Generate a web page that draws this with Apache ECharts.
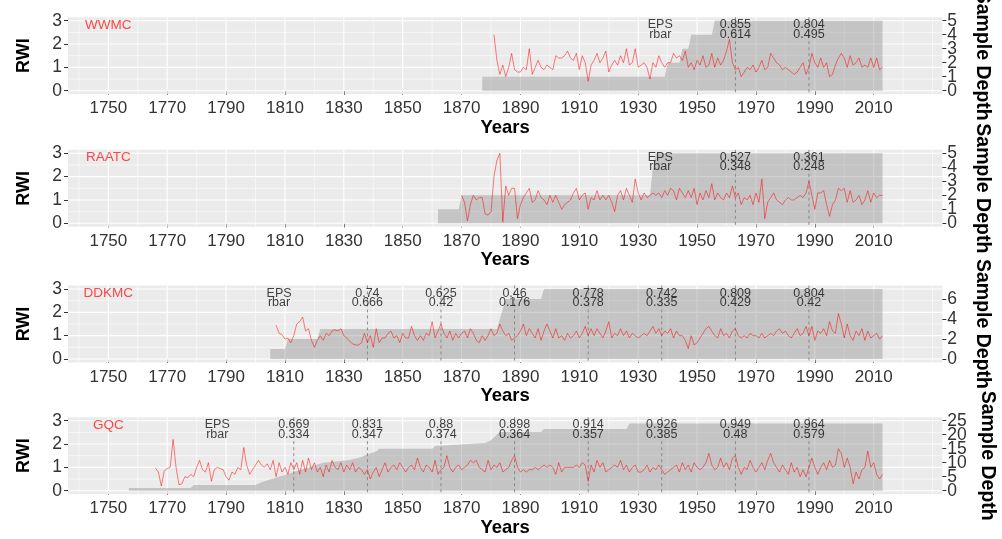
<!DOCTYPE html>
<html><head><meta charset="utf-8">
<script src="https://cdn.jsdelivr.net/npm/echarts@6/dist/echarts.min.js"></script>
<style>html,body{margin:0;padding:0;background:#fff}#c{width:1002px;height:539px}</style>
</head><body><div id="c"></div>
<script>
// ---------- data ----------
const siteNames = ['WWMC', 'RAATC', 'DDKMC', 'GQC'];
const tickYears = [1750, 1770, 1790, 1810, 1830, 1850, 1870, 1890, 1910, 1930, 1950, 1970, 1990, 2010];
const minorYears = [1740, 1760, 1780, 1800, 1820, 1840, 1860, 1880, 1900, 1920, 1940, 1960, 1980, 2000, 2020, 2030];
const rwiTicks = [0, 1, 2, 3];
const rwiMinor = [0.5, 1.5, 2.5];

const wwmcStart = 1881;
const wwmcRwi = [
  2.4,1.3,0.7,1.1,0.6,1.0,1.6,0.9,0.8,0.8,
  1.0,0.9,1.8,0.7,1.0,1.3,1.0,0.9,1.1,1.0,
  0.9,1.5,1.4,1.4,1.5,1.7,1.4,1.3,1.6,0.9,
  1.5,1.2,0.4,1.1,1.3,1.6,1.2,1.4,1.7,0.8,
  1.1,1.3,1.1,1.5,1.2,1.8,1.1,1.2,1.8,1.0,
  1.1,1.2,1.0,0.5,1.2,1.0,1.5,1.2,1.0,1.2,
  1.2,1.6,1.4,1.5,1.3,1.7,1.0,1.2,0.9,1.3,
  1.1,1.5,1.0,1.1,1.6,1.0,1.4,1.1,1.3,1.7,
  2.2,1.2,0.9,1.0,0.6,0.8,1.0,0.9,1.1,0.8,
  1.0,1.3,0.9,1.0,1.6,1.4,1.2,1.1,0.9,1.0,
  0.9,0.8,0.7,0.8,1.0,1.2,0.7,1.0,1.6,1.2,
  1.0,1.4,1.0,1.2,0.6,0.7,1.1,1.4,1.6,1.4,
  1.0,1.5,1.1,1.2,1.4,1.0,1.1,1.0,1.4,1.0,
  1.4,0.9,1.0];
const raatcStart = 1870;
const raatcRwi = [
  1.2,0.9,0.1,0.8,1.2,1.0,1.1,1.1,0.4,0.35,
  0.5,2.0,2.7,3.0,0.05,1.6,1.2,1.5,1.5,0.2,
  0.8,1.1,1.3,1.5,0.9,1.0,1.4,1.1,1.0,0.8,
  1.2,0.9,1.2,0.9,0.6,0.8,0.9,1.0,1.3,1.5,
  1.0,1.2,1.3,0.6,1.1,1.0,1.4,1.0,1.2,1.0,
  1.2,0.9,0.5,1.2,1.4,1.0,1.5,1.2,0.9,1.9,
  1.3,1.0,1.3,1.1,1.2,1.3,1.2,1.3,1.1,1.4,
  1.2,1.5,1.4,1.0,1.5,1.3,1.1,1.4,1.1,1.5,
  0.8,1.3,1.0,1.4,1.1,1.7,1.0,1.3,1.1,1.0,
  1.3,1.1,1.6,1.1,1.3,0.8,1.1,1.0,1.2,0.8,
  1.3,0.9,1.9,0.2,0.9,1.1,1.3,1.0,0.9,0.8,
  1.0,1.1,1.0,1.0,1.1,1.2,1.1,1.3,1.8,1.2,
  0.6,1.3,1.3,1.4,0.8,0.3,0.8,1.0,1.5,1.4,
  1.5,0.9,1.4,0.9,1.0,1.2,0.8,1.0,1.4,0.9,
  1.3,1.1,1.2,1.2];
const ddkmcStart = 1807;
const ddkmcRwi = [
  1.45,1.1,1.05,0.85,0.9,0.7,1.0,1.5,1.6,1.8,
  1.2,1.3,0.8,0.5,0.8,1.0,0.8,1.1,1.0,1.2,
  1.25,1.2,1.3,1.0,0.9,0.75,0.65,0.6,0.6,0.7,
  1.1,0.7,1.0,0.5,1.3,0.7,0.9,0.9,1.1,1.2,
  0.9,1.0,0.7,1.1,0.9,0.9,1.4,1.0,0.8,1.0,
  0.8,1.1,1.0,1.6,0.9,1.2,1.5,1.1,0.9,1.2,
  0.8,1.1,0.9,1.1,1.2,0.9,1.3,1.1,0.8,0.7,
  1.0,0.8,1.0,1.3,1.0,1.1,1.5,1.2,1.0,1.1,
  0.8,0.9,1.0,1.2,1.5,1.0,1.3,1.1,0.9,1.3,
  0.8,1.2,1.5,1.2,0.9,1.3,0.9,1.0,0.8,1.1,
  0.9,1.0,1.2,0.9,1.1,1.4,1.0,1.3,1.0,1.3,
  1.1,0.9,1.2,1.6,0.9,1.1,1.0,1.3,1.0,1.2,
  0.9,1.1,1.0,0.9,1.0,1.1,1.0,1.2,1.4,1.1,
  1.3,1.0,1.2,1.1,1.3,0.9,1.2,1.0,1.0,0.8,
  0.45,1.0,0.6,0.7,0.9,1.1,1.3,1.4,1.2,1.0,
  0.9,1.3,1.0,1.1,0.9,1.2,1.3,1.0,0.9,1.0,
  0.9,1.1,1.0,1.0,0.9,1.1,0.9,1.0,1.1,1.0,
  1.2,1.3,1.1,1.2,1.0,0.9,1.1,1.3,1.0,1.1,
  1.4,1.0,1.4,0.8,1.2,1.1,1.3,1.0,1.6,1.2,
  1.1,1.95,1.5,0.9,1.5,1.0,0.8,1.2,1.0,1.3,
  0.8,1.2,0.9,1.0,1.1,0.85,1.0];
const gqcStart = 1766;
const gqcRwi = [
  0.97,0.8,0.2,0.85,0.95,1.0,2.2,1.0,0.25,0.3,
  0.6,0.55,0.7,0.6,1.0,1.3,0.9,0.8,1.2,0.4,
  0.9,1.0,0.95,0.9,0.6,0.45,0.8,0.7,1.0,0.9,
  1.85,1.1,0.7,0.9,1.1,1.3,1.1,1.0,1.15,0.9,
  1.3,0.6,1.2,0.8,1.0,0.7,1.2,0.9,1.2,0.7,
  1.3,0.8,1.4,0.9,1.2,0.8,1.0,0.6,1.1,0.8,
  1.3,1.0,0.9,1.2,0.8,1.1,0.9,1.2,0.8,1.0,
  0.9,0.7,0.9,0.5,0.8,1.0,0.6,0.9,1.2,0.8,
  1.0,1.1,0.9,1.2,1.0,0.8,1.0,1.1,0.9,1.4,
  1.0,0.8,1.1,1.0,0.8,1.3,0.7,0.9,1.0,1.5,
  1.0,0.8,1.0,1.1,0.9,1.0,1.1,1.3,1.2,1.3,
  1.0,0.9,0.8,1.3,0.9,1.1,1.0,1.2,0.8,0.9,
  1.0,1.3,1.5,1.0,0.8,0.9,0.8,0.9,0.9,1.0,
  0.9,1.0,1.1,1.0,1.1,1.0,0.7,1.2,0.8,1.0,
  1.0,1.0,1.0,1.1,1.0,1.2,1.1,0.4,1.1,0.8,
  1.3,1.0,1.2,0.8,0.9,1.0,1.1,1.0,1.3,0.9,
  1.1,0.8,1.0,1.1,0.8,0.8,0.9,1.1,0.8,1.0,
  0.9,1.1,0.9,0.7,0.8,0.9,1.0,1.1,0.8,1.2,
  0.9,1.1,0.8,1.2,1.0,0.9,1.0,1.2,1.6,1.1,
  0.9,1.0,1.4,1.0,1.2,0.9,1.4,1.5,1.0,0.7,
  1.0,0.9,1.3,1.0,0.8,1.0,1.2,0.9,1.3,1.6,
  1.2,1.0,0.8,1.1,0.9,0.7,1.2,0.8,1.0,0.6,
  0.9,0.6,1.0,1.4,1.0,0.7,1.0,1.2,0.9,1.3,
  1.0,1.1,1.8,1.6,1.0,1.4,1.0,0.3,0.8,0.5,
  0.9,1.0,1.7,1.0,1.2,0.7,0.5,0.7];

// sample depth (year where depth changes, depth)
const wwmcDepthYears = [1877, 1939, 1940, 1944, 1945, 1947, 1948, 1955, 1956, 2013];
const wwmcDepth      = [1, 1, 2, 2, 3, 3, 4, 4, 5, 5];
const raatcDepthYears = [1862, 1869, 1870, 1934, 1935, 1936, 2013];
const raatcDepth      = [1, 1, 2, 2, 4, 5, 5];
const ddkmcDepthYears = [1805, 1810, 1811, 1821, 1822, 1882, 1883, 1885, 1897, 1898, 2013];
const ddkmcDepth      = [1, 1, 2, 2, 3, 3, 4, 6, 6, 7, 7];
const gqcDepthYears = [1757, 1778, 1779, 1800, 1802, 1805, 1808, 1811, 1814, 1817, 1820, 1823, 1832, 1836, 1838, 1841, 1842, 1860, 1861, 1878, 1880, 1881, 1882, 1883, 1897, 1898, 1926, 1927, 2013];
const gqcDepth      = [1, 1, 2, 2, 3, 4, 5, 6, 7, 8, 9, 10, 11, 12, 13, 14, 15, 15, 16, 17, 18, 19, 20, 21, 21, 22, 22, 24, 24];
const depthTicks = [[0,1,2,3,4,5], [0,1,2,3,4,5], [0,2,4,6], [0,5,10,15,20,25]];
const depthAxisTop = [5, 5, 7, 25];   // depth value aligned with RWI = 3

// running EPS / rbar windows
const wwmcWindows = [1963, 1988];
const wwmcEps  = [0.855, 0.804];
const wwmcRbar = [0.614, 0.495];
const raatcWindows = [1963, 1988];
const raatcEps  = [0.527, 0.361];
const raatcRbar = [0.348, 0.248];
const ddkmcWindows = [1838, 1863, 1888, 1913, 1938, 1963, 1988];
const ddkmcEps  = [0.74, 0.625, 0.46, 0.778, 0.742, 0.809, 0.804];
const ddkmcRbar = [0.666, 0.42, 0.176, 0.378, 0.335, 0.429, 0.42];
const gqcWindows = [1813, 1838, 1863, 1888, 1913, 1938, 1963, 1988];
const gqcEps  = [0.669, 0.831, 0.88, 0.898, 0.914, 0.926, 0.949, 0.964];
const gqcRbar = [0.334, 0.347, 0.374, 0.364, 0.357, 0.385, 0.48, 0.579];
const epsLabelYear = [1937.5, 1937.5, 1808, 1787];
const nameLabelYear = 1750;
const epsRowY = 2.82, rbarRowY = 2.42, nameRowY = 2.82;

// ---------- build ----------
const panels = [
  {start: wwmcStart, rwi: wwmcRwi, dy: wwmcDepthYears, dv: wwmcDepth, win: wwmcWindows, eps: wwmcEps, rbar: wwmcRbar},
  {start: raatcStart, rwi: raatcRwi, dy: raatcDepthYears, dv: raatcDepth, win: raatcWindows, eps: raatcEps, rbar: raatcRbar},
  {start: ddkmcStart, rwi: ddkmcRwi, dy: ddkmcDepthYears, dv: ddkmcDepth, win: ddkmcWindows, eps: ddkmcEps, rbar: ddkmcRbar},
  {start: gqcStart, rwi: gqcRwi, dy: gqcDepthYears, dv: gqcDepth, win: gqcWindows, eps: gqcEps, rbar: gqcRbar}
];
const FONT = '"Liberation Sans", Arial, sans-serif';
const tops = [17.2, 149.8, 285.5, 417.2];
const H = 77;
const grids = [], xAxes = [], yAxes = [], series = [];
const plain = v => String(v);

panels.forEach((p, i) => {
  grids.push({left: 68, right: 59.7, top: tops[i], height: H, show: true,
    backgroundColor: '#EBEBEB', borderWidth: 0, containLabel: false, outerBoundsMode: 'none'});
  xAxes.push({gridIndex: i, type: 'value', min: 1736.3, max: 2033.3,
    axisLine: {show: false},
    axisTick: {show: true, customValues: tickYears, length: 4, lineStyle: {color: '#333', width: 1}},
    axisLabel: {customValues: tickYears, formatter: plain, showMinLabel: true, showMaxLabel: true,
      fontSize: 17, color: '#333', margin: 6, fontFamily: FONT},
    splitLine: {show: false},
    name: 'Years', nameLocation: 'middle', nameGap: 23,
    nameTextStyle: {fontWeight: 'bold', fontSize: 18.5, color: '#000', fontFamily: FONT}});
  const leftIdx = yAxes.length;
  yAxes.push({gridIndex: i, type: 'value', position: 'left', min: -0.15, max: 3.15,
    axisLine: {show: false},
    axisTick: {show: true, customValues: rwiTicks, length: 4, lineStyle: {color: '#333'}},
    axisLabel: {customValues: rwiTicks, formatter: plain, showMinLabel: true, showMaxLabel: true,
      fontSize: 17.5, color: '#333', margin: 6, fontFamily: FONT},
    splitLine: {show: false},
    name: 'RWI', nameLocation: 'middle', nameGap: 35, nameRotate: 90,
    nameTextStyle: {fontWeight: 'bold', fontSize: 18, color: '#000', fontFamily: FONT}});
  const f = depthAxisTop[i] / 3;
  // right axis split into two interleaved label sets so every tick label stays visible
  const evenTicks = depthTicks[i].filter((_, k) => k % 2 === 0);
  const oddTicks = depthTicks[i].filter((_, k) => k % 2 === 1);
  const rightIdx = yAxes.length;
  [evenTicks, oddTicks].forEach((tv, k) => {
    yAxes.push({gridIndex: i, type: 'value', position: 'right', offset: 0, min: -0.15 * f, max: 3.15 * f,
      axisLine: {show: false},
      axisTick: {show: true, customValues: tv, length: 4, lineStyle: {color: '#333'}},
      axisLabel: {customValues: tv, formatter: plain, showMinLabel: true, showMaxLabel: true,
        fontSize: 17.5, color: '#333', margin: 5, fontFamily: FONT},
      splitLine: {show: false},
      name: k === 0 ? 'Sample Depth' : '', nameLocation: 'middle', nameGap: 30, nameRotate: -90,
      nameTextStyle: {fontWeight: 'bold', fontSize: 19.5, color: '#000', fontFamily: FONT}});
  });

  // background grid lines (vertical)
  series.push({type: 'custom', xAxisIndex: i, yAxisIndex: leftIdx, z: 1, silent: true,
    data: tickYears.map(y => [y, 0, 1]).concat(minorYears.map(y => [y, 0, 0])),
    renderItem: (params, api) => {
      const cs = params.coordSys;
      const x = api.coord([api.value(0), 0])[0];
      return {type: 'line', shape: {x1: x, y1: cs.y, x2: x, y2: cs.y + cs.height},
        style: {stroke: '#fff', lineWidth: api.value(2) ? 1.1 : 0.55}};
    }});
  // background grid lines (horizontal)
  series.push({type: 'custom', xAxisIndex: i, yAxisIndex: leftIdx, z: 1, silent: true,
    data: rwiTicks.map(v => [1800, v, 1]).concat(rwiMinor.map(v => [1800, v, 0])),
    renderItem: (params, api) => {
      const cs = params.coordSys;
      const y = api.coord([1800, api.value(1)])[1];
      return {type: 'line', shape: {x1: cs.x, y1: y, x2: cs.x + cs.width, y2: y},
        style: {stroke: '#fff', lineWidth: api.value(2) ? 1.1 : 0.55}};
    }});
  // sample depth area
  series.push({type: 'line', xAxisIndex: i, yAxisIndex: rightIdx, z: 2, silent: true,
    data: p.dy.map((y, k) => [y, p.dv[k]]), showSymbol: false, symbol: 'none',
    lineStyle: {width: 0}, areaStyle: {color: 'rgba(127,127,127,0.36)', opacity: 1}});
  // dashed window lines
  series.push({type: 'custom', xAxisIndex: i, yAxisIndex: leftIdx, z: 3, silent: true,
    data: p.win.map(y => [y, 0]),
    renderItem: (params, api) => {
      const cs = params.coordSys;
      const x = api.coord([api.value(0), 0])[0];
      return {type: 'line', shape: {x1: x, y1: cs.y, x2: x, y2: cs.y + cs.height},
        style: {stroke: '#808080', lineWidth: 0.9, lineDash: [3, 3]}};
    }});
  // RWI line
  series.push({type: 'line', xAxisIndex: i, yAxisIndex: leftIdx, z: 4, silent: true,
    data: p.rwi.map((v, k) => [p.start + k, v]), showSymbol: false, symbol: 'none',
    lineStyle: {color: 'rgba(255,0,0,0.5)', width: 1}});
  // text rows
  const txt = (items, color, size) => ({type: 'scatter', xAxisIndex: i, yAxisIndex: leftIdx, z: 5, silent: true,
    symbolSize: 1, itemStyle: {color: 'rgba(0,0,0,0)'},
    data: items,
    label: {show: true, position: 'inside', formatter: '{b}', color: color, fontSize: size, fontFamily: FONT}});
  series.push(txt([{name: 'EPS', value: [epsLabelYear[i], epsRowY]}]
    .concat(p.win.map((y, k) => ({name: String(p.eps[k]), value: [y, epsRowY]}))), '#111', 12.5));
  series.push(txt([{name: 'rbar', value: [epsLabelYear[i], rbarRowY]}]
    .concat(p.win.map((y, k) => ({name: String(p.rbar[k]), value: [y, rbarRowY]}))), '#111', 12.5));
  series.push(txt([{name: siteNames[i], value: [nameLabelYear, nameRowY]}], '#FF1A1A', 13.5));
});

const chart = echarts.init(document.getElementById('c'), null, {renderer: 'canvas'});
chart.setOption({animation: false, backgroundColor: '#fff', grid: grids, xAxis: xAxes, yAxis: yAxes, series: series});
</script></body></html>
